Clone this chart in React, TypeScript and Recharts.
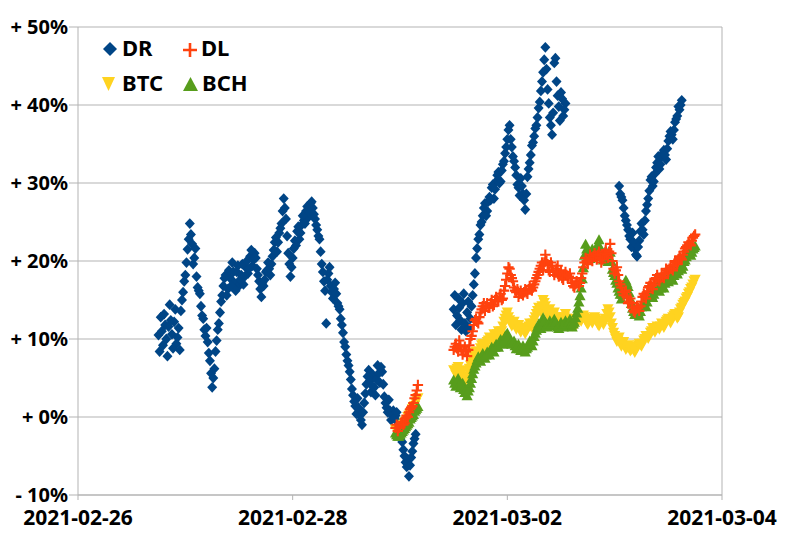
import React from "react";
import {
  CartesianGrid,
  ReferenceLine,
  Scatter,
  ScatterChart,
  XAxis,
  YAxis,
} from "recharts";

// readings every 30 min, plus a second list read 15 min later for each stretch;
// gaps in the record split every series into parts
const HALF_HOUR = 30 * 60 * 1000;

const DR_START_1 = "2021-02-26T18:00:00Z";
const DR_START_1B = "2021-02-26T18:15:00Z";
const DR_START_2 = "2021-03-01T12:00:00Z";
const DR_START_2B = "2021-03-01T12:15:00Z";
const DR_START_3 = "2021-03-03T01:00:00Z";
const DR_START_3B = "2021-03-03T01:15:00Z";
const LOW_START_1 = "2021-02-28T23:00:00Z";
const LOW_START_1B = "2021-02-28T23:15:00Z";
const LOW_START_2 = "2021-03-01T12:00:00Z";
const LOW_START_2B = "2021-03-01T12:15:00Z";

const drPart1 = [
  10.5, 12.8, 9.2, 11.8, 7.8, 14.4, 10.6, 12.2, 9.4, 11.4,
  13.6, 16.0, 18.2, 21.5, 24.8, 22.2, 20.4, 18.0, 16.2, 14.2,
  12.6, 10.4, 9.6, 7.2, 3.8, 6.2, 9.8, 12.0, 14.8, 16.8,
  18.2, 16.4, 17.8, 19.8, 17.2, 18.6, 16.8, 18.2, 17.0, 19.2,
  18.4, 20.6, 19.4, 21.0, 19.0, 17.4, 15.4, 16.8, 18.6, 19.8,
  18.2, 20.6, 22.4, 21.2, 23.6, 24.8, 28.0, 25.4, 21.0, 18.0,
  20.4, 22.6, 23.8, 22.8, 24.6, 25.2, 26.4, 25.6, 27.4, 26.8,
  25.4, 24.0, 22.8, 19.6, 17.4, 12.0, 18.4, 16.8, 15.2, 17.2,
  14.6, 13.8, 11.8, 9.6, 8.0, 6.6, 4.8, 2.8, 1.4, 2.4,
  0.2, -1.0, 1.8, 4.2, 6.0, 3.2, 5.4, 2.8, 6.6, 4.4,
  5.8, 2.6, 1.2, 2.2, -0.4, 0.8, 0.2, -0.6, -1.6, -3.2,
  -5.0, -6.4, -7.6, -5.2, -3.4, -2.2,
];
const drPart1b = [
  8.4, 11.0, 13.2, 10.0, 11.6, 12.4, 8.8, 13.8, 10.2, 8.6,
  15.0, 17.4, 19.8, 22.8, 23.4, 19.6, 21.6, 16.6, 15.8, 13.0,
  11.2, 11.4, 8.2, 5.6, 5.0, 8.4, 11.2, 13.4, 15.6, 17.8,
  15.6, 18.8, 16.8, 18.6, 16.2, 19.4, 17.6, 19.6, 18.0, 20.0,
  19.0, 21.4, 20.2, 20.4, 18.2, 16.4, 17.2, 17.6, 18.8, 19.0,
  19.6, 21.4, 23.0, 22.4, 24.2, 26.4, 26.8, 23.2, 19.6, 19.2,
  21.6, 22.0, 24.4, 23.6, 25.8, 24.8, 27.0, 26.2, 27.6, 26.0,
  24.6, 23.2, 21.2, 18.6, 16.2, 17.6, 19.2, 16.0, 16.4, 15.8,
  14.2, 12.6, 10.8, 9.0, 7.2, 5.8, 3.6, 2.0, 0.4, 1.2,
  -0.4, 0.6, 3.0, 5.2, 4.6, 4.0, 3.8, 4.8, 5.6, 6.4,
  4.2, 1.8, 0.6, 0.8, 0.2, -0.2, 0.6, -1.0, -2.4, -4.2,
  -5.8, -5.4, -6.2, -4.4, -2.8,
];
const drPart2 = [
  13.8, 11.8, 15.2, 12.4, 14.6, 12.0, 13.4, 11.4, 14.2, 17.0,
  20.4, 22.8, 24.6, 25.8, 27.4, 26.4, 28.2, 29.4, 28.0, 30.2,
  31.4, 30.2, 32.4, 33.8, 35.6, 37.4, 34.6, 32.8, 31.0, 29.4,
  30.6, 28.6, 26.6, 30.8, 32.6, 34.8, 36.0, 37.4, 39.6, 41.8,
  44.2, 47.4, 42.0, 38.4, 36.2, 45.4, 43.0, 39.8, 41.6, 38.6,
  40.2,
];
const drPart2b = [
  15.6, 13.0, 14.0, 11.2, 15.8, 11.0, 14.8, 12.6, 15.6, 18.4,
  21.6, 23.4, 25.0, 26.8, 25.8, 27.6, 27.8, 29.8, 29.2, 31.0,
  30.0, 31.6, 32.8, 34.6, 36.8, 35.6, 33.4, 32.0, 29.8, 28.4,
  29.6, 27.8, 28.6, 31.8, 33.6, 35.2, 37.0, 38.4, 40.4, 43.0,
  45.8, 44.6, 40.2, 37.4, 39.0, 46.0, 41.2, 38.0, 40.8, 39.4,
];
const drPart3 = [
  29.6, 28.2, 26.8, 25.2, 24.0, 22.8, 23.6, 21.6, 20.6, 22.6,
  24.8, 23.4, 26.4, 28.0, 30.4, 29.6, 31.2, 32.6, 31.8, 33.4,
  34.2, 33.0, 35.4, 36.6, 35.6, 37.8, 38.6, 39.4, 40.6,
];
const drPart3b = [
  28.6, 27.8, 25.8, 24.6, 23.2, 21.8, 22.4, 20.8, 21.8, 23.8,
  24.0, 25.2, 27.2, 29.0, 30.8, 30.2, 32.0, 33.4, 32.4, 33.8,
  33.6, 34.4, 36.0, 36.2, 36.8, 38.2, 39.8, 40.0,
];

const dlPart1 = [-1.4, -1.8, -1.2, -0.6, -0.8, 0.2, 0.6, 1.2, 1.8, 2.8, 4.1];
const dlPart1b = [-1.0, -1.4, -0.8, -1.0, -0.2, 0.0, 1.0, 1.4, 2.4, 3.4];
const dlPart2 = [
  8.6, 9.4, 8.4, 9.2, 8.0, 9.0, 7.8, 9.2, 10.4, 11.8,
  12.6, 12.0, 13.4, 14.2, 13.6, 14.6, 14.0, 15.0, 14.4, 15.4,
  14.8, 15.8, 15.2, 16.8, 18.4, 19.0, 17.8, 16.6, 16.0, 15.4,
  16.2, 15.6, 16.4, 15.8, 16.8, 16.2, 17.0, 17.8, 18.6, 19.4,
  18.8, 20.8, 19.6, 18.6, 19.4, 18.2, 19.0, 18.0, 18.8, 17.6,
  18.6, 17.8, 18.4, 17.2, 16.6, 17.4, 16.8, 17.8, 19.2, 20.4,
  19.6, 20.8, 20.0, 21.0, 20.2, 21.2, 19.8, 20.6, 21.4, 20.4,
  22.2, 20.0, 18.4, 19.2, 17.4, 16.6, 15.6, 16.2, 14.6, 15.2,
  14.0, 13.4, 14.2, 13.6, 14.8, 15.8, 15.2, 16.6, 17.2, 16.4,
  17.6, 18.2, 17.4, 18.4, 17.8, 19.0, 18.6, 19.4, 18.8, 20.0,
  19.6, 20.6, 20.2, 21.2, 21.8, 22.4, 22.0, 23.0, 23.4,
];
const dlPart2b = [
  9.0, 8.8, 9.8, 8.6, 8.6, 8.4, 8.6, 10.0, 11.0, 12.4,
  12.2, 12.8, 13.8, 14.6, 14.2, 14.0, 14.6, 14.2, 15.0, 15.0,
  15.4, 15.0, 16.2, 17.6, 19.2, 18.2, 17.4, 16.2, 16.4, 15.8,
  15.8, 16.0, 16.0, 16.4, 16.4, 16.6, 17.4, 18.2, 19.0, 19.8,
  19.8, 20.0, 18.8, 19.8, 18.6, 18.6, 19.4, 18.4, 17.8, 18.2,
  18.2, 18.0, 17.8, 16.8, 17.0, 17.2, 17.2, 18.4, 19.8, 20.0,
  20.2, 20.4, 20.6, 20.6, 20.8, 20.4, 20.2, 21.0, 20.8, 21.2,
  21.0, 19.0, 18.8, 18.2, 17.0, 16.0, 16.0, 15.4, 14.8, 14.6,
  13.6, 13.8, 14.0, 14.2, 15.4, 15.6, 16.0, 16.8, 16.8, 17.0,
  17.8, 17.8, 17.8, 18.0, 18.4, 18.8, 19.0, 19.0, 19.4, 19.8,
  20.2, 20.4, 20.8, 21.6, 22.0, 22.2, 22.6, 23.2,
];

const btcPart1 = [-1.6, -2.0, -1.6, -1.2, -0.8, -0.4, 0.2, 0.6, 1.2, 1.8, 2.4];
const btcPart1b = [-1.8, -1.8, -1.4, -1.0, -0.6, 0.0, 0.4, 1.0, 1.4, 2.2];
const btcPart2 = [
  6.0, 5.4, 6.4, 5.2, 5.8, 4.4, 5.2, 6.2, 7.0, 7.8,
  8.4, 7.8, 8.8, 9.4, 8.6, 9.6, 10.2, 9.4, 10.6, 10.0,
  11.0, 10.4, 11.6, 12.6, 13.4, 12.4, 11.6, 12.2, 11.2, 11.8,
  10.8, 11.4, 10.6, 11.2, 12.0, 11.4, 12.4, 13.2, 14.0, 13.4,
  15.0, 14.2, 13.0, 13.8, 12.6, 13.4, 12.2, 12.8, 11.8, 12.6,
  13.2, 12.0, 12.6, 11.6, 12.4, 11.8, 12.8, 12.2, 13.0, 12.4,
  11.8, 12.6, 12.0, 12.8, 12.2, 11.6, 12.4, 11.8, 12.6, 13.8,
  12.8, 11.4, 10.4, 9.6, 10.2, 9.0, 9.6, 8.6, 9.2, 8.4,
  9.0, 8.2, 8.8, 9.4, 9.0, 9.8, 10.4, 10.0, 10.8, 11.4,
  10.8, 11.6, 11.2, 12.0, 11.4, 12.2, 12.6, 12.0, 12.8, 13.2,
  12.6, 13.4, 14.0, 14.6, 15.2, 15.8, 16.4, 17.0, 17.6,
];
const btcPart2b = [
  5.8, 6.2, 5.6, 6.0, 5.0, 4.8, 5.8, 6.6, 7.4, 8.2,
  8.0, 8.4, 9.2, 8.8, 9.2, 9.8, 9.8, 10.0, 10.2, 10.6,
  10.6, 11.0, 12.2, 13.0, 12.8, 12.0, 12.0, 11.6, 11.6, 11.2,
  11.2, 11.0, 11.0, 11.6, 11.6, 12.0, 12.8, 13.6, 13.6, 14.2,
  14.6, 13.6, 13.4, 13.2, 13.0, 12.8, 12.6, 12.2, 12.2, 12.8,
  12.6, 12.4, 12.0, 12.0, 12.2, 12.4, 12.4, 12.6, 12.8, 12.0,
  12.2, 12.4, 12.4, 12.6, 11.8, 12.0, 12.2, 12.2, 13.2, 13.4,
  12.0, 10.8, 10.0, 9.8, 9.6, 9.4, 9.0, 8.8, 8.8, 8.6,
  8.6, 8.6, 9.2, 9.2, 9.4, 10.0, 10.2, 10.4, 11.0, 11.2,
  11.2, 11.4, 11.6, 11.8, 11.8, 12.4, 12.4, 12.4, 13.0, 13.0,
  12.8, 13.8, 14.4, 14.8, 15.4, 16.0, 16.6, 17.4,
];

const bchPart1 = [-2.0, -2.4, -2.2, -1.8, -1.4, -1.0, -0.6, 0.0, 0.4, 1.0, 1.4];
const bchPart1b = [-2.2, -2.4, -2.0, -1.6, -1.2, -0.8, -0.2, 0.2, 0.8, 1.2];
const bchPart2 = [
  4.8, 4.0, 5.0, 3.8, 4.4, 3.2, 2.8, 3.8, 5.0, 6.2,
  7.0, 7.8, 7.2, 8.2, 7.6, 8.4, 8.0, 9.0, 8.4, 9.4,
  9.0, 10.0, 9.4, 10.4, 10.8, 10.0, 9.4, 9.8, 8.8, 9.4,
  8.6, 9.2, 8.4, 9.0, 9.8, 9.2, 10.4, 11.2, 12.0, 11.4,
  12.8, 12.2, 11.6, 12.4, 11.8, 12.6, 12.0, 11.4, 12.2, 11.6,
  12.4, 11.8, 12.6, 11.6, 12.2, 13.4, 14.8, 16.6, 19.2, 22.2,
  21.2, 20.4, 21.6, 20.6, 21.8, 22.8, 21.0, 20.2, 21.4, 20.0,
  21.2, 19.0, 18.2, 17.2, 16.2, 15.2, 16.4, 17.6, 16.8, 15.2,
  14.0, 13.2, 13.8, 13.0, 14.2, 14.8, 14.2, 15.4, 16.0, 15.4,
  16.4, 17.0, 16.2, 17.2, 16.6, 17.8, 17.4, 18.2, 17.6, 18.8,
  18.4, 19.4, 19.0, 20.0, 20.6, 21.2, 20.8, 21.6, 22.0,
];
const bchPart2b = [
  4.4, 4.6, 4.2, 4.2, 3.6, 3.6, 3.4, 4.4, 5.6, 6.6,
  7.4, 7.4, 7.8, 7.8, 8.0, 8.2, 8.6, 8.6, 9.0, 9.2,
  9.6, 9.6, 9.8, 10.6, 10.4, 9.6, 9.6, 9.2, 9.2, 8.8,
  8.8, 8.8, 8.8, 9.4, 9.4, 9.8, 10.8, 11.6, 11.6, 12.2,
  12.4, 11.8, 12.0, 12.0, 12.2, 12.2, 11.6, 11.8, 11.8, 12.0,
  12.0, 12.2, 12.0, 12.0, 12.8, 14.0, 15.6, 17.8, 20.8, 21.6,
  20.8, 21.0, 21.0, 21.2, 22.2, 21.8, 20.6, 20.8, 20.6, 20.6,
  20.0, 18.6, 17.6, 16.6, 15.8, 15.8, 17.0, 17.2, 16.0, 14.6,
  13.6, 13.4, 13.4, 13.6, 14.4, 14.4, 14.8, 15.6, 15.6, 15.8,
  16.6, 16.6, 16.6, 16.8, 17.2, 17.6, 17.8, 17.8, 18.2, 18.6,
  18.8, 19.2, 19.4, 20.2, 21.0, 21.0, 21.2, 21.8,
];

const xTicks = ["2021-02-26", "2021-02-28", "2021-03-02", "2021-03-04"];
const yTicks = [-10, 0, 10, 20, 30, 40, 50];

const COLORS = {
  dr: "#004586",
  dl: "#ff420e",
  btc: "#ffd320",
  bch: "#579d1c",
};

const FONT = '"Noto Sans", "Open Sans", sans-serif';
const GRID = "#b3b3b3";

function toPoints(start: string, values: number[]) {
  const t0 = Date.parse(start);
  return values.map((v, i) => ({ t: t0 + i * HALF_HOUR, v }));
}

const drData = [
  ...toPoints(DR_START_1, drPart1),
  ...toPoints(DR_START_1B, drPart1b),
  ...toPoints(DR_START_2, drPart2),
  ...toPoints(DR_START_2B, drPart2b),
  ...toPoints(DR_START_3, drPart3),
  ...toPoints(DR_START_3B, drPart3b),
];
const dlData = [
  ...toPoints(LOW_START_1, dlPart1),
  ...toPoints(LOW_START_1B, dlPart1b),
  ...toPoints(LOW_START_2, dlPart2),
  ...toPoints(LOW_START_2B, dlPart2b),
];
const btcData = [
  ...toPoints(LOW_START_1, btcPart1),
  ...toPoints(LOW_START_1B, btcPart1b),
  ...toPoints(LOW_START_2, btcPart2),
  ...toPoints(LOW_START_2B, btcPart2b),
];
const bchData = [
  ...toPoints(LOW_START_1, bchPart1),
  ...toPoints(LOW_START_1B, bchPart1b),
  ...toPoints(LOW_START_2, bchPart2),
  ...toPoints(LOW_START_2B, bchPart2b),
];

const xTickValues = xTicks.map((d) => Date.parse(d + "T00:00:00Z"));
const xDomain = [xTickValues[0], xTickValues[xTickValues.length - 1]];

const formatDate = (t: number) => new Date(t).toISOString().slice(0, 10);
const formatPct = (v: number) => (v < 0 ? `- ${-v}%` : `+ ${v}%`);

type MarkProps = { cx?: number; cy?: number };

function Diamond({ cx = 0, cy = 0 }: MarkProps) {
  return (
    <path
      d={`M${cx},${cy - 5.4}L${cx + 5},${cy}L${cx},${cy + 5.4}L${cx - 5},${cy}Z`}
      fill={COLORS.dr}
    />
  );
}

function Plus({ cx = 0, cy = 0 }: MarkProps) {
  return (
    <path
      d={`M${cx - 5.2},${cy}H${cx + 5.2}M${cx},${cy - 5.2}V${cy + 5.2}`}
      stroke={COLORS.dl}
      strokeWidth={2.1}
      fill="none"
    />
  );
}

function TriangleDown({ cx = 0, cy = 0 }: MarkProps) {
  return (
    <path
      d={`M${cx - 5.6},${cy - 5}H${cx + 5.6}L${cx},${cy + 5}Z`}
      fill={COLORS.btc}
    />
  );
}

function TriangleUp({ cx = 0, cy = 0 }: MarkProps) {
  return (
    <path
      d={`M${cx - 5.6},${cy + 5}H${cx + 5.6}L${cx},${cy - 5}Z`}
      fill={COLORS.bch}
    />
  );
}

function LegendBox() {
  const text = { fontFamily: FONT, fontWeight: 700, fontSize: 22, fill: "#000" };
  return (
    <svg
      width={200}
      height={80}
      style={{ position: "absolute", left: 90, top: 30, pointerEvents: "none" }}
    >
      <g transform="translate(-90,-30)">
        <path d="M110,42L117,49L110,56L103,49Z" fill={COLORS.dr} />
        <text x={122} y={56} {...text}>DR</text>
        <path d="M183,50H197M190,43V57" stroke={COLORS.dl} strokeWidth={2.6} />
        <text x={201} y={56} {...text}>DL</text>
        <path d="M102,77H115L108.5,91Z" fill={COLORS.btc} />
        <text x={122} y={91} {...text}>BTC</text>
        <path d="M183,91H198L190.5,77Z" fill={COLORS.bch} />
        <text x={202} y={91} {...text}>BCH</text>
      </g>
    </svg>
  );
}

export default function App() {
  const yTick = { fill: "#000", fontSize: 20, fontWeight: 700, fontFamily: FONT };
  const xTick = { ...yTick, fontSize: 21 };
  return (
    <div style={{ position: "absolute", left: 0, top: 0, width: 785, height: 539 }}>
      <ScatterChart
        width={785}
        height={539}
        margin={{ top: 27, right: 63, bottom: 0, left: 0 }}
      >
        <CartesianGrid stroke={GRID} vertical={false} horizontalValues={yTicks} />
        <XAxis
          type="number"
          dataKey="t"
          domain={xDomain}
          ticks={xTickValues}
          tickFormatter={formatDate}
          tick={xTick}
          height={44}
          tickSize={5}
          tickMargin={10}
          axisLine={{ stroke: GRID }}
          tickLine={{ stroke: GRID }}
          interval={0}
        />
        <YAxis
          type="number"
          dataKey="v"
          domain={[-10, 50]}
          ticks={yTicks}
          tickFormatter={formatPct}
          tick={yTick}
          width={78}
          tickSize={9}
          tickMargin={1}
          axisLine={{ stroke: GRID }}
          tickLine={{ stroke: GRID }}
          interval={0}
        />
        <ReferenceLine x={xDomain[1]} stroke={GRID} />
        <Scatter
          name="DR"
          data={drData}
          shape={(p: MarkProps) => <Diamond cx={p.cx} cy={p.cy} />}
          isAnimationActive={false}
        />
        <Scatter
          name="BTC"
          data={btcData}
          shape={(p: MarkProps) => <TriangleDown cx={p.cx} cy={p.cy} />}
          isAnimationActive={false}
        />
        <Scatter
          name="BCH"
          data={bchData}
          shape={(p: MarkProps) => <TriangleUp cx={p.cx} cy={p.cy} />}
          isAnimationActive={false}
        />
        <Scatter
          name="DL"
          data={dlData}
          shape={(p: MarkProps) => <Plus cx={p.cx} cy={p.cy} />}
          isAnimationActive={false}
        />
      </ScatterChart>
      <LegendBox />
    </div>
  );
}
